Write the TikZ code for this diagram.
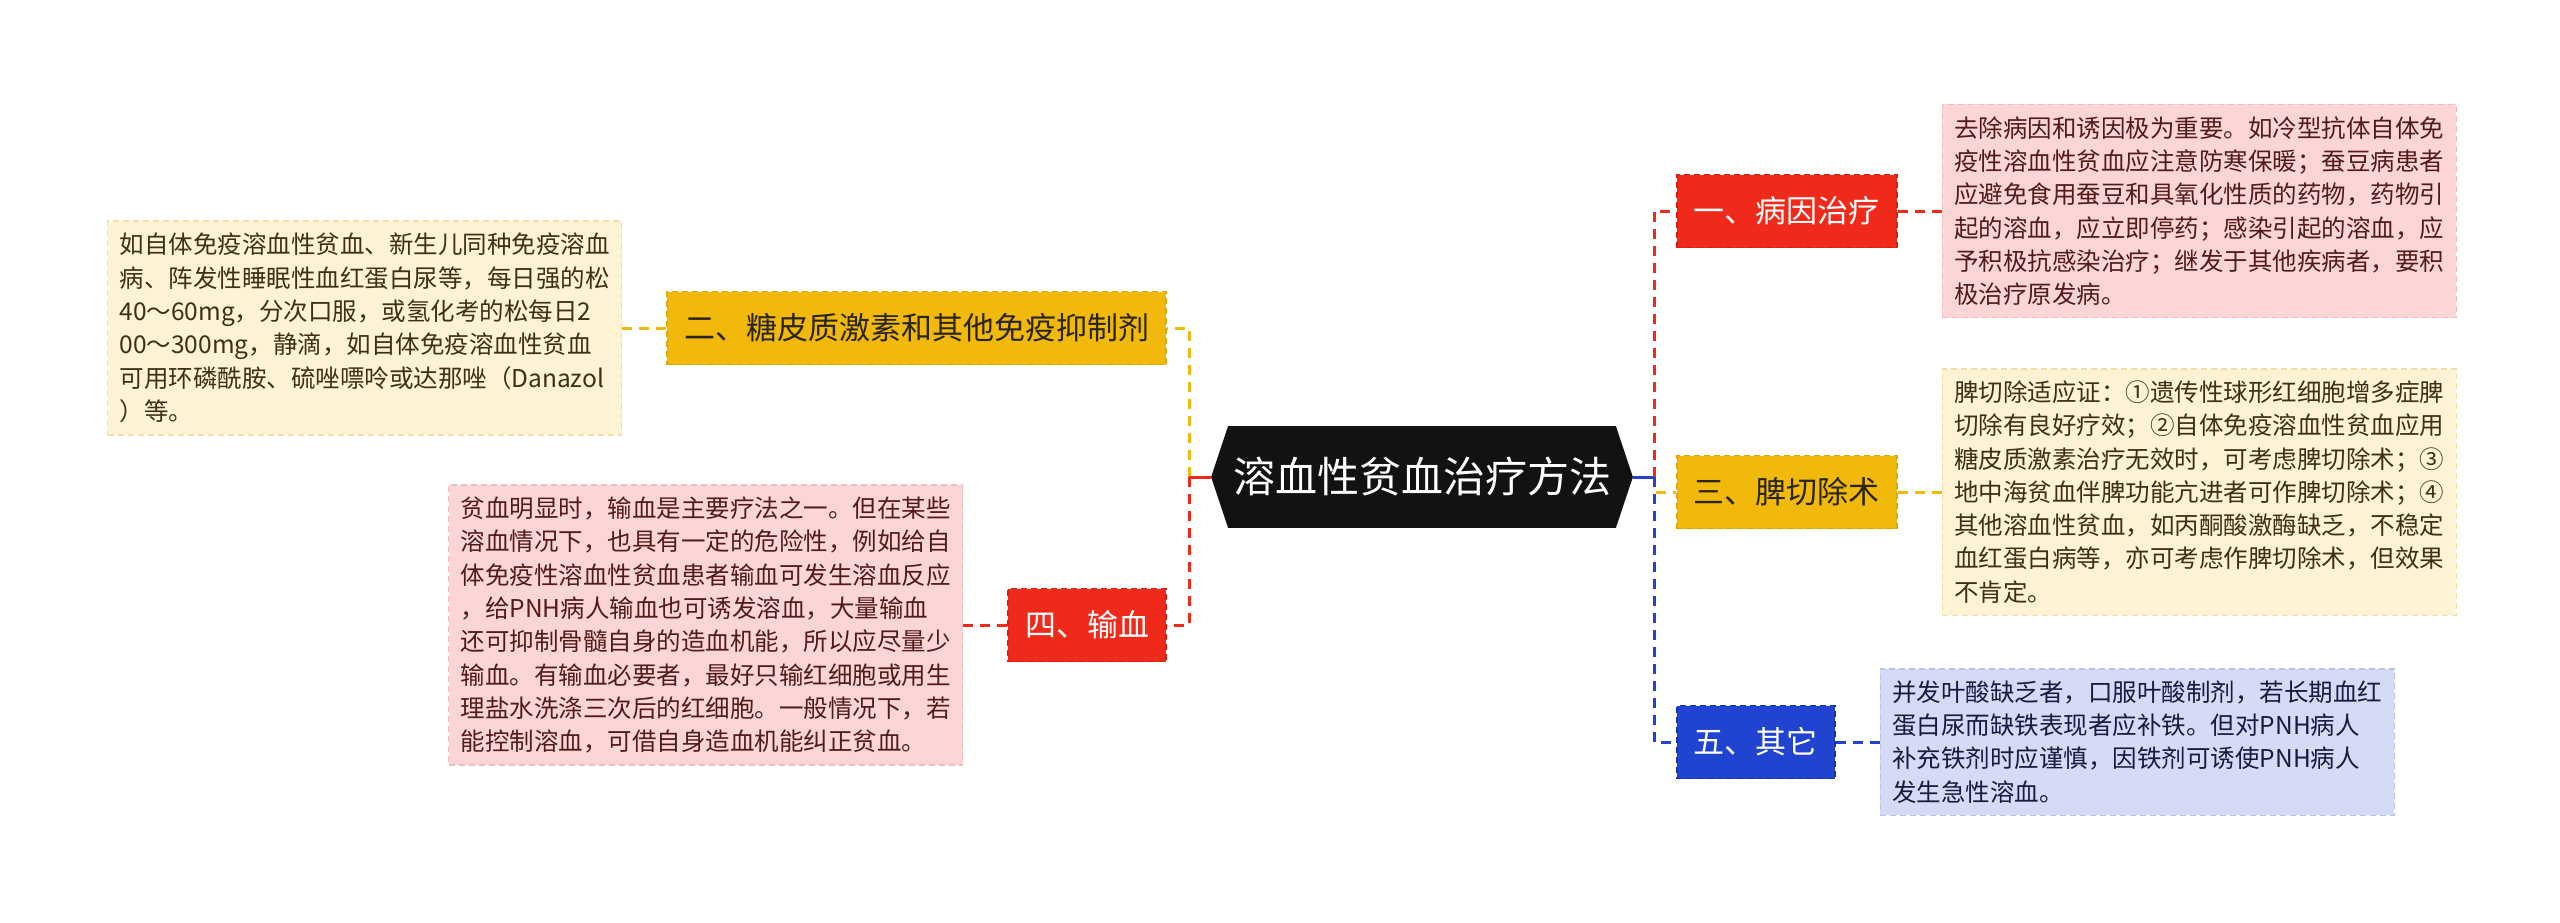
\documentclass[tikz,border=0pt]{standalone}
\usepackage{fontspec}
\setmainfont{Noto Sans CJK SC}
\usetikzlibrary{positioning, backgrounds}

\definecolor{redc}{RGB}{240,42,26}
\definecolor{redd}{RGB}{214,30,18}
\definecolor{ylwc}{RGB}{240,185,12}
\definecolor{ylwd}{RGB}{222,166,8}
\definecolor{ylwt}{RGB}{43,37,16}
\definecolor{bluc}{RGB}{33,68,208}
\definecolor{blud}{RGB}{24,50,170}
\definecolor{pinkf}{RGB}{252,214,214}
\definecolor{pinkd}{RGB}{240,188,188}
\definecolor{pinkt}{RGB}{84,26,26}
\definecolor{creamf}{RGB}{254,243,211}
\definecolor{creamd}{RGB}{240,222,170}
\definecolor{creamt}{RGB}{61,48,21}
\definecolor{lavf}{RGB}{213,218,246}
\definecolor{lavd}{RGB}{186,194,236}
\definecolor{lavt}{RGB}{24,26,62}

\begin{document}
\begin{tikzpicture}[x=0.5pt, y=-0.5pt,
    root/.style={rectangle, minimum width=210.5pt, minimum height=50.5pt, text=white, font=\fontsize{21}{25}\selectfont},
    branch/.style={rectangle, draw, dash pattern=on 3pt off 2pt, line width=0.8pt, minimum height=36.5pt, inner xsep=8.5pt, font=\fontsize{15.5}{18}\selectfont},
    leaf/.style={rectangle, draw, dash pattern=on 3pt off 2pt, line width=0.8pt, align=left, inner xsep=6pt, inner ysep=6pt, font=\fontsize{12.25}{16.65}\selectfont},
    link/.style={line width=1.5pt, dash pattern=on 5pt off 3.5pt}
]
\useasboundingbox (0,0) rectangle (2560,922);

\node[root] (root) at (1422,477) {溶血性贫血治疗方法};

\node[branch, fill=redc, draw=redd, text=white, anchor=west] (b1) at (1676,211) {一、病因治疗};
\node[branch, fill=ylwc, draw=ylwd, text=ylwt, anchor=west] (b3) at (1676,492) {三、脾切除术};
\node[branch, fill=bluc, draw=blud, text=white, anchor=west] (b5) at (1676,742) {五、其它};
\node[branch, fill=ylwc, draw=ylwd, text=ylwt, anchor=east] (b2) at (1167,328) {二、糖皮质激素和其他免疫抑制剂};
\node[branch, fill=redc, draw=redd, text=white, anchor=east] (b4) at (1167,625) {四、输血};

\node[leaf, fill=pinkf, draw=pinkd, text=pinkt, right=22pt of b1] (l1) {去除病因和诱因极为重要。如冷型抗体自体免\\
疫性溶血性贫血应注意防寒保暖；蚕豆病患者\\
应避免食用蚕豆和具氧化性质的药物，药物引\\
起的溶血，应立即停药；感染引起的溶血，应\\
予积极抗感染治疗；继发于其他疾病者，要积\\
极治疗原发病。};
\node[leaf, fill=creamf, draw=creamd, text=creamt, right=22pt of b3] (l3) {脾切除适应证：①遗传性球形红细胞增多症脾\\
切除有良好疗效；②自体免疫溶血性贫血应用\\
糖皮质激素治疗无效时，可考虑脾切除术；③\\
地中海贫血伴脾功能亢进者可作脾切除术；④\\
其他溶血性贫血，如丙酮酸激酶缺乏，不稳定\\
血红蛋白病等，亦可考虑作脾切除术，但效果\\
不肯定。};
\node[leaf, fill=lavf, draw=lavd, text=lavt, right=22pt of b5] (l5) {并发叶酸缺乏者，口服叶酸制剂，若长期血红\\
蛋白尿而缺铁表现者应补铁。但对PNH病人\\
补充铁剂时应谨慎，因铁剂可诱使PNH病人\\
发生急性溶血。};
\node[leaf, fill=creamf, draw=creamd, text=creamt, left=22pt of b2] (l2) {如自体免疫溶血性贫血、新生儿同种免疫溶血\\
病、阵发性睡眠性血红蛋白尿等，每日强的松\\
40～60mg，分次口服，或氢化考的松每日2\\
00～300mg，静滴，如自体免疫溶血性贫血\\
可用环磷酰胺、硫唑嘌呤或达那唑（Danazol\\
）等。};
\node[leaf, fill=pinkf, draw=pinkd, text=pinkt, left=22pt of b4] (l4) {贫血明显时，输血是主要疗法之一。但在某些\\
溶血情况下，也具有一定的危险性，例如给自\\
体免疫性溶血性贫血患者输血可发生溶血反应\\
，给PNH病人输血也可诱发溶血，大量输血\\
还可抑制骨髓自身的造血机能，所以应尽量少\\
输血。有输血必要者，最好只输红细胞或用生\\
理盐水洗涤三次后的红细胞。一般情况下，若\\
能控制溶血，可借自身造血机能纠正贫血。};

\begin{scope}[on background layer]
\fill[white] (0,0) rectangle (2560,922);
\fill[black!93] ([xshift=8.5pt]root.north west) -- ([xshift=-8.5pt]root.north east) -- (root.east)
  -- ([xshift=-8.5pt]root.south east) -- ([xshift=8.5pt]root.south west) -- (root.west) -- cycle;
\end{scope}

\coordinate (jl) at (1189,477);
\coordinate (jr) at (1654,477);
\draw[link, ylwc] (jl) |- (b2);
\draw[link, redc] (jl) |- (b4);
\draw[link, redc] (jr) |- (b1);
\draw[link, ylwc] (jr) |- (b3);
\draw[link, bluc] (jr) |- (b5);
\draw[link, redc, solid] (root.west) -- (jl);
\draw[link, bluc, solid] (root.east) -- (jr);
\draw[link, redc] (b1) -- (l1);
\draw[link, ylwc] (b3) -- (l3);
\draw[link, bluc] (b5) -- (l5);
\draw[link, ylwc] (b2) -- (l2);
\draw[link, redc] (b4) -- (l4);
\end{tikzpicture}
\end{document}
